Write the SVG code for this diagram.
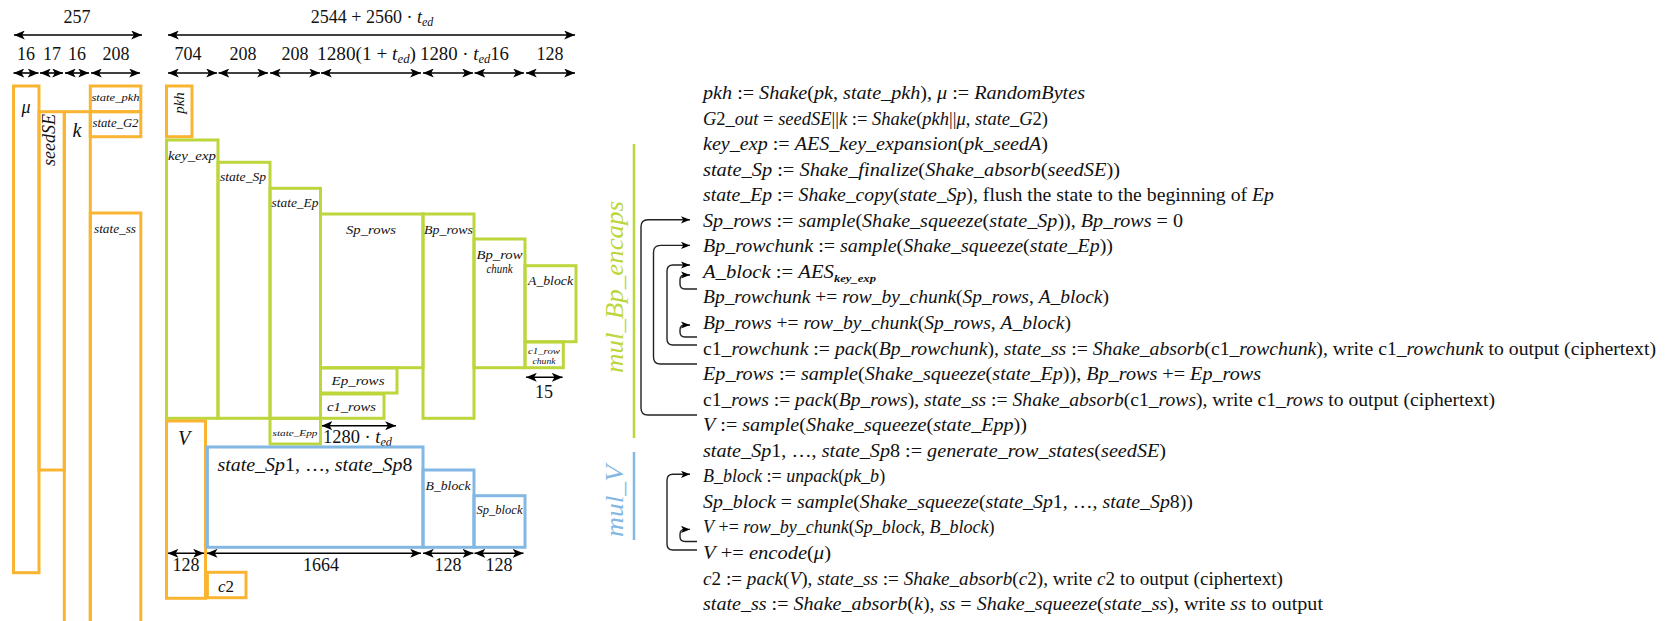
<svg xmlns="http://www.w3.org/2000/svg" width="1670" height="621" viewBox="0 0 1670 621">
<style>
.o{fill:none;stroke:#F9B531;stroke-width:3}
.g{fill:none;stroke:#BCD63C;stroke-width:3}
.b{fill:none;stroke:#82B8E3;stroke-width:3}
.it{font-family:"Liberation Serif",serif;font-style:italic;fill:#111}
.rm{font-family:"Liberation Serif",serif;font-style:normal;fill:#111}
.r{font-style:normal}
.dim{stroke:#000;stroke-width:1.6;fill:none;marker-start:url(#ah);marker-end:url(#ah)}
.loop{stroke:#222;stroke-width:1.4;fill:none;marker-end:url(#la)}
.m{font-family:"Liberation Serif",serif;font-style:italic;font-size:18px;fill:#111}
</style>
<defs>
<marker id="ah" viewBox="0 0 12 10" refX="12" refY="5" markerWidth="11" markerHeight="9" markerUnits="userSpaceOnUse" orient="auto-start-reverse"><path d="M0,0 L12,5 L0,10 L3,5 z" fill="#000"/></marker>
<marker id="la" viewBox="0 0 10 8" refX="10" refY="4" markerWidth="9" markerHeight="8" markerUnits="userSpaceOnUse" orient="auto"><path d="M0,0 L10,4 L0,8 L2.5,4 z" fill="#000"/></marker>
</defs>
<rect width="1670" height="621" fill="#fff"/>

<g id="connectors">
<line class="dim" x1="14" y1="35" x2="142" y2="35"/>
<line class="dim" x1="168" y1="35" x2="575" y2="35"/>
<line class="dim" x1="13.5" y1="73" x2="38.5" y2="73"/>
<line class="dim" x1="40" y1="73" x2="63" y2="73"/>
<line class="dim" x1="65" y1="73" x2="89" y2="73"/>
<line class="dim" x1="91" y1="73" x2="140" y2="73"/>
<line class="dim" x1="168" y1="73" x2="217" y2="73"/>
<line class="dim" x1="218.5" y1="73" x2="268" y2="73"/>
<line class="dim" x1="270" y1="73" x2="320" y2="73"/>
<line class="dim" x1="321" y1="73" x2="421" y2="73"/>
<line class="dim" x1="423" y1="73" x2="473" y2="73"/>
<line class="dim" x1="474.5" y1="73" x2="524" y2="73"/>
<line class="dim" x1="526" y1="73" x2="575" y2="73"/>
<line class="dim" x1="321.5" y1="425.7" x2="396" y2="425.7"/>
<line class="dim" x1="526" y1="377.3" x2="562.6" y2="377.3"/>
<line class="dim" x1="167.6" y1="553.3" x2="204" y2="553.3"/>
<line class="dim" x1="206.7" y1="553.3" x2="421" y2="553.3"/>
<line class="dim" x1="423" y1="553.3" x2="473.4" y2="553.3"/>
<line class="dim" x1="474.5" y1="553.3" x2="523.5" y2="553.3"/>

<line x1="634" y1="144" x2="634" y2="438" stroke="#BCD63C" stroke-width="2.5"/>
<line x1="634" y1="452" x2="634" y2="540" stroke="#82B8E3" stroke-width="2.5"/>

<path class="loop" d="M697,415 H648 Q641,415 641,408 V226.8 Q641,219.8 648,219.8 H690"/>
<path class="loop" d="M697,364 H660.5 Q653.5,364 653.5,357 V252.4 Q653.5,245.4 660.5,245.4 H690"/>
<path class="loop" d="M697,345 H673 Q667,345 667,339 V271 Q667,265 673,265 H690"/>
<path class="loop" d="M697,289 H685 Q680,289 680,284 V280 Q680,275 685,275 H690"/>
<path class="loop" d="M697,337 H685 Q680,337 680,332 V330 Q680,325 685,325 H690"/>
<path class="loop" d="M697,550 H673 Q667,550 667,544 V480.3 Q667,474.3 673,474.3 H690"/>
<path class="loop" d="M697,541.5 H685 Q680,541.5 680,536.5 V534.4 Q680,529.4 685,529.4 H690"/>
</g>

<g id="labels-dim">
<text class="rm" x="77" y="23" font-size="18" text-anchor="middle">257</text>
<text class="rm" x="372" y="23" font-size="18" text-anchor="middle">2544 + 2560 · <tspan class="it">t</tspan><tspan class="it" font-size="12" dy="3">ed</tspan></text>
<text class="rm" x="26" y="60" font-size="18" text-anchor="middle">16</text>
<text class="rm" x="52" y="60" font-size="18" text-anchor="middle">17</text>
<text class="rm" x="77" y="60" font-size="18" text-anchor="middle">16</text>
<text class="rm" x="116" y="60" font-size="18" text-anchor="middle">208</text>
<text class="rm" x="188" y="60" font-size="18" text-anchor="middle">704</text>
<text class="rm" x="243" y="60" font-size="18" text-anchor="middle">208</text>
<text class="rm" x="295" y="60" font-size="18" text-anchor="middle">208</text>
<text class="rm" x="317" y="60" font-size="18" textLength="99" lengthAdjust="spacingAndGlyphs">1280(1 + <tspan class="it">t</tspan><tspan class="it" font-size="12" dy="3">ed</tspan><tspan dy="-3">)</tspan></text>
<text class="rm" x="420" y="60" font-size="18" textLength="89" lengthAdjust="spacingAndGlyphs">1280 · <tspan class="it">t</tspan><tspan class="it" font-size="12" dy="3">ed</tspan><tspan dy="-3">16</tspan></text>
<text class="rm" x="550" y="60" font-size="18" text-anchor="middle">128</text>
<text class="rm" x="323" y="443" font-size="18" textLength="69" lengthAdjust="spacingAndGlyphs">1280 · <tspan class="it">t</tspan><tspan class="it" font-size="12" dy="3">ed</tspan></text>
<text class="rm" x="544" y="398" font-size="18" text-anchor="middle">15</text>
<text class="rm" x="186" y="571" font-size="18" text-anchor="middle">128</text>
<text class="rm" x="321" y="571" font-size="18" text-anchor="middle">1664</text>
<text class="rm" x="448" y="571" font-size="18" text-anchor="middle">128</text>
<text class="rm" x="499" y="571" font-size="18" text-anchor="middle">128</text>
</g>

<g id="mu"><rect class="o" x="13.5" y="86" width="25.5" height="486.7"/><text class="it" x="26" y="113" font-size="18" text-anchor="middle">μ</text></g>
<g id="seedSE"><rect class="o" x="39" y="111.7" width="25.3" height="358.3"/><text class="it" font-size="18" text-anchor="middle" transform="translate(55,140) rotate(-90)">seedSE</text></g>
<g id="k"><rect class="o" x="64.3" y="111.7" width="26" height="530"/><text class="it" x="77" y="137" font-size="20" text-anchor="middle">k</text></g>
<g id="state_pkh"><rect class="o" x="90.3" y="86" width="50.5" height="25.7"/><text class="it" x="91.5" y="101" font-size="11" textLength="48" lengthAdjust="spacingAndGlyphs">state_pkh</text></g>
<g id="state_G2"><rect class="o" x="90.3" y="111.7" width="50.5" height="25"/><text class="it" x="92.5" y="127" font-size="12" textLength="46" lengthAdjust="spacingAndGlyphs">state_G2</text></g>
<g id="state_ss"><rect class="o" x="90.3" y="213" width="50.5" height="430"/><text class="it" x="94" y="233" font-size="12" textLength="42" lengthAdjust="spacingAndGlyphs">state_ss</text></g>
<g id="pkh"><rect class="o" x="166.5" y="86" width="25.5" height="50.7"/><text class="it" font-size="15" text-anchor="middle" transform="translate(184,103) rotate(-90)">pkh</text></g>
<g id="key_exp"><rect class="g" x="166.5" y="140" width="51.5" height="278.3"/><text class="it" x="168" y="160" font-size="12.5" textLength="48" lengthAdjust="spacingAndGlyphs">key_exp</text></g>
<g id="state_Sp"><rect class="g" x="218" y="162.3" width="52" height="256"/><text class="it" x="220" y="181" font-size="12.5" textLength="46" lengthAdjust="spacingAndGlyphs">state_Sp</text></g>
<g id="state_Ep"><rect class="g" x="270" y="188.3" width="50.5" height="230"/><text class="it" x="271.5" y="207" font-size="12.5" textLength="47" lengthAdjust="spacingAndGlyphs">state_Ep</text></g>
<g id="state_Epp"><rect class="g" x="270" y="418.3" width="50.5" height="25.7"/><text class="it" x="295" y="436" font-size="9" text-anchor="middle" textLength="45" lengthAdjust="spacingAndGlyphs">state_Epp</text></g>
<g id="Sp_rows"><rect class="g" x="320.5" y="214" width="102.5" height="153.7"/><text class="it" x="371" y="234" font-size="12.5" text-anchor="middle" textLength="50" lengthAdjust="spacingAndGlyphs">Sp_rows</text></g>
<g id="Ep_rows"><rect class="g" x="320.5" y="368" width="76.5" height="25"/><text class="it" x="358" y="385" font-size="12.5" text-anchor="middle" textLength="53" lengthAdjust="spacingAndGlyphs">Ep_rows</text></g>
<g id="c1_rows"><rect class="g" x="320.5" y="394" width="63.5" height="24.3"/><text class="it" x="351.5" y="411" font-size="12.5" text-anchor="middle" textLength="49" lengthAdjust="spacingAndGlyphs">c1_rows</text></g>
<g id="Bp_rows"><rect class="g" x="423" y="214" width="51" height="204.3"/><text class="it" x="424" y="234" font-size="12.5" textLength="49" lengthAdjust="spacingAndGlyphs">Bp_rows</text></g>
<g id="Bp_rowchunk"><rect class="g" x="474" y="239" width="51" height="128.7"/><text class="it" x="499.5" y="259" font-size="12.5" text-anchor="middle" textLength="46" lengthAdjust="spacingAndGlyphs">Bp_row</text><text class="it" x="499.5" y="273" font-size="12.5" text-anchor="middle" textLength="26" lengthAdjust="spacingAndGlyphs">chunk</text></g>
<g id="A_block"><rect class="g" x="525" y="265.7" width="51" height="76"/><text class="it" x="550.5" y="285" font-size="12.5" text-anchor="middle" textLength="45" lengthAdjust="spacingAndGlyphs">A_block</text></g>
<g id="c1_rowchunk"><rect class="g" x="525" y="342" width="38.3" height="25.7"/><text class="it" x="544" y="353.5" font-size="9" text-anchor="middle" textLength="32" lengthAdjust="spacingAndGlyphs">c1_row</text><text class="it" x="544" y="364" font-size="9" text-anchor="middle" textLength="23" lengthAdjust="spacingAndGlyphs">chunk</text></g>
<g id="V"><rect class="o" x="166.5" y="421" width="39" height="177.3"/><text class="it" x="184" y="445" font-size="20" text-anchor="middle">V</text></g>
<g id="state_Sp1_8"><rect class="b" x="207.4" y="447" width="215.6" height="100.3"/><text class="it" x="217.4" y="471" font-size="19" textLength="195" lengthAdjust="spacingAndGlyphs">state_Sp<tspan class="r">1, …, </tspan>state_Sp<tspan class="r">8</tspan></text></g>
<g id="B_block"><rect class="b" x="423" y="470" width="51" height="77.3"/><text class="it" x="448" y="490" font-size="12.5" text-anchor="middle" textLength="45" lengthAdjust="spacingAndGlyphs">B_block</text></g>
<g id="Sp_block"><rect class="b" x="474" y="495.7" width="51" height="51.6"/><text class="it" x="499.5" y="514" font-size="12" text-anchor="middle" textLength="46" lengthAdjust="spacingAndGlyphs">Sp_block</text></g>
<g id="c2"><rect class="o" x="207.4" y="572.3" width="38.6" height="25.4"/><text class="it" x="226" y="592" font-size="17" text-anchor="middle">c<tspan class="r">2</tspan></text></g>

<g id="group-labels">
<text class="it" font-size="25" style="fill:#BCD63C" text-anchor="middle" textLength="172" lengthAdjust="spacingAndGlyphs" transform="translate(623,287) rotate(-90)">mul_Bp_encaps</text>
<text class="it" font-size="25" style="fill:#82B8E3" text-anchor="middle" textLength="72" lengthAdjust="spacingAndGlyphs" transform="translate(623,501) rotate(-90)">mul_V</text>
</g>

<g id="algorithm">
<text class="m" x="703" y="99" textLength="382" lengthAdjust="spacingAndGlyphs">pkh<tspan class="r"> := </tspan>Shake<tspan class="r">(</tspan>pk<tspan class="r">, </tspan>state_pkh<tspan class="r">), </tspan>μ<tspan class="r"> := </tspan>RandomBytes</text>
<text class="m" x="703" y="124.6" textLength="345" lengthAdjust="spacingAndGlyphs">G<tspan class="r">2</tspan>_out<tspan class="r"> = </tspan>seedSE<tspan class="r">||</tspan>k<tspan class="r"> := </tspan>Shake<tspan class="r">(</tspan>pkh<tspan class="r">||</tspan>μ<tspan class="r">, </tspan>state_G<tspan class="r">2)</tspan></text>
<text class="m" x="703" y="150.1" textLength="345" lengthAdjust="spacingAndGlyphs">key_exp<tspan class="r"> := </tspan>AES_key_expansion<tspan class="r">(</tspan>pk_seedA<tspan class="r">)</tspan></text>
<text class="m" x="703" y="175.7" textLength="417" lengthAdjust="spacingAndGlyphs">state_Sp<tspan class="r"> := </tspan>Shake_finalize<tspan class="r">(</tspan>Shake_absorb<tspan class="r">(</tspan>seedSE<tspan class="r">))</tspan></text>
<text class="m" x="703" y="201.2" textLength="571" lengthAdjust="spacingAndGlyphs">state_Ep<tspan class="r"> := </tspan>Shake_copy<tspan class="r">(</tspan>state_Sp<tspan class="r">), flush the state to the beginning of </tspan>Ep</text>
<text class="m" x="703" y="226.8" textLength="480" lengthAdjust="spacingAndGlyphs">Sp_rows<tspan class="r"> := </tspan>sample<tspan class="r">(</tspan>Shake_squeeze<tspan class="r">(</tspan>state_Sp<tspan class="r">)), </tspan>Bp_rows<tspan class="r"> = 0</tspan></text>
<text class="m" x="703" y="252.3" textLength="410" lengthAdjust="spacingAndGlyphs">Bp_rowchunk<tspan class="r"> := </tspan>sample<tspan class="r">(</tspan>Shake_squeeze<tspan class="r">(</tspan>state_Ep<tspan class="r">))</tspan></text>
<text class="m" x="703" y="277.9" textLength="173" lengthAdjust="spacingAndGlyphs">A_block<tspan class="r"> := </tspan>AES<tspan font-size="11" font-weight="bold" dy="4">key_exp</tspan></text>
<text class="m" x="703" y="303.4" textLength="406" lengthAdjust="spacingAndGlyphs">Bp_rowchunk<tspan class="r"> += </tspan>row_by_chunk<tspan class="r">(</tspan>Sp_rows<tspan class="r">, </tspan>A_block<tspan class="r">)</tspan></text>
<text class="m" x="703" y="329" textLength="368" lengthAdjust="spacingAndGlyphs">Bp_rows<tspan class="r"> += </tspan>row_by_chunk<tspan class="r">(</tspan>Sp_rows<tspan class="r">, </tspan>A_block<tspan class="r">)</tspan></text>
<text class="m" x="703" y="354.5" textLength="953" lengthAdjust="spacingAndGlyphs"><tspan class="r">c1</tspan>_rowchunk<tspan class="r"> := </tspan>pack<tspan class="r">(</tspan>Bp_rowchunk<tspan class="r">), </tspan>state_ss<tspan class="r"> := </tspan>Shake_absorb<tspan class="r">(c1</tspan>_rowchunk<tspan class="r">), write c1</tspan>_rowchunk<tspan class="r"> to output (ciphertext)</tspan></text>
<text class="m" x="703" y="380.1" textLength="558" lengthAdjust="spacingAndGlyphs">Ep_rows<tspan class="r"> := </tspan>sample<tspan class="r">(</tspan>Shake_squeeze<tspan class="r">(</tspan>state_Ep<tspan class="r">)), </tspan>Bp_rows<tspan class="r"> += </tspan>Ep_rows</text>
<text class="m" x="703" y="405.6" textLength="792" lengthAdjust="spacingAndGlyphs"><tspan class="r">c1</tspan>_rows<tspan class="r"> := </tspan>pack<tspan class="r">(</tspan>Bp_rows<tspan class="r">), </tspan>state_ss<tspan class="r"> := </tspan>Shake_absorb<tspan class="r">(c1</tspan>_rows<tspan class="r">), write c1</tspan>_rows<tspan class="r"> to output (ciphertext)</tspan></text>
<text class="m" x="703" y="431.2" textLength="324" lengthAdjust="spacingAndGlyphs">V<tspan class="r"> := </tspan>sample<tspan class="r">(</tspan>Shake_squeeze<tspan class="r">(</tspan>state_Epp<tspan class="r">))</tspan></text>
<text class="m" x="703" y="456.7" textLength="463" lengthAdjust="spacingAndGlyphs">state_Sp<tspan class="r">1, …, </tspan>state_Sp<tspan class="r">8 := </tspan>generate_row_states<tspan class="r">(</tspan>seedSE<tspan class="r">)</tspan></text>
<text class="m" x="703" y="482.3">B_block<tspan class="r"> := </tspan>unpack<tspan class="r">(</tspan>pk_b<tspan class="r">)</tspan></text>
<text class="m" x="703" y="507.8" textLength="490" lengthAdjust="spacingAndGlyphs">Sp_block<tspan class="r"> = </tspan>sample<tspan class="r">(</tspan>Shake_squeeze<tspan class="r">(</tspan>state_Sp<tspan class="r">1, …, </tspan>state_Sp<tspan class="r">8))</tspan></text>
<text class="m" x="703" y="533.4">V<tspan class="r"> += </tspan>row_by_chunk<tspan class="r">(</tspan>Sp_block<tspan class="r">, </tspan>B_block<tspan class="r">)</tspan></text>
<text class="m" x="703" y="558.9" textLength="128" lengthAdjust="spacingAndGlyphs">V<tspan class="r"> += </tspan>encode<tspan class="r">(</tspan>μ<tspan class="r">)</tspan></text>
<text class="m" x="703" y="584.5" textLength="580" lengthAdjust="spacingAndGlyphs">c<tspan class="r">2 := </tspan>pack<tspan class="r">(</tspan>V<tspan class="r">), </tspan>state_ss<tspan class="r"> := </tspan>Shake_absorb<tspan class="r">(</tspan>c<tspan class="r">2), write </tspan>c<tspan class="r">2 to output (ciphertext)</tspan></text>
<text class="m" x="703" y="610" textLength="620" lengthAdjust="spacingAndGlyphs">state_ss<tspan class="r"> := </tspan>Shake_absorb<tspan class="r">(</tspan>k<tspan class="r">), </tspan>ss<tspan class="r"> = </tspan>Shake_squeeze<tspan class="r">(</tspan>state_ss<tspan class="r">), write </tspan>ss<tspan class="r"> to output</tspan></text>
</g>
</svg>
